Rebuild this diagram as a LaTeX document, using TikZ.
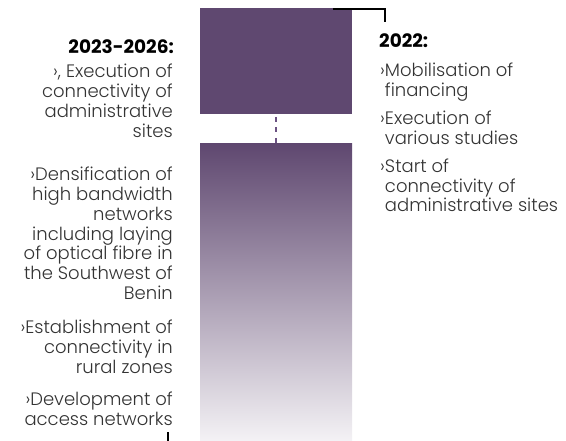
\documentclass[tikz,border=0pt]{standalone}
\usepackage{fontspec}
\IfFontExistsTF{Poppins Light}{\setmainfont{Poppins Light}[BoldFont=Poppins Bold]}{\setmainfont{Poppins}}
\definecolor{barcol}{HTML}{5F4870}
\definecolor{fadecol}{HTML}{F4F2F5}
\definecolor{dashcol}{HTML}{6B5282}
\definecolor{txtcol}{HTML}{333333}
\newcommand\bodyfnt{\fontsize{18}{19.7}\selectfont}
\newcommand\rbodyfnt{\fontsize{18}{18.3}\selectfont}
\newcommand\headfnt{\fontsize{18.5}{20}\selectfont\bfseries}
\newcommand\lcol[1]{\begin{tabular}[t]{@{}r@{}}#1\end{tabular}}
\newcommand\rcol[1]{\begin{tabular}[t]{@{}l@{}}#1\end{tabular}}
\newcommand\bul{›}
\newcommand\ind{\phantom{›}}
\tikzset{
  bar/.style={inner sep=0, outer sep=0, anchor=north west, minimum width=152pt},
  lhead/.style={anchor=base east, inner sep=0, font=\headfnt, text=black},
  rhead/.style={anchor=base west, inner sep=0, font=\headfnt, text=black},
  ltext/.style={anchor=base east, inner sep=0, font=\bodyfnt, text=txtcol},
  rtext/.style={anchor=base west, inner sep=0, font=\rbodyfnt, text=txtcol},
  blackline/.style={draw=black, line width=2pt},
}
\begin{document}
\begin{tikzpicture}[x=1pt,y=-1pt]
\useasboundingbox (0,0) rectangle (566,441);
\node[bar, fill=barcol, minimum height=106pt] (topbar) at (200,8) {};
\node[bar, top color=barcol, bottom color=fadecol, minimum height=297pt] (botbar) at (200,144) {};
\draw[dashcol, line width=2.5pt, dash pattern=on 5pt off 5.5pt] ([yshift=-3pt]topbar.south) -- (botbar.north);
% right column
\node[rhead] (h22) at (379,48) {2022:};
\node[rtext] (r1) at (380,77) {\rcol{\bul Mobilisation of\\ \ind financing}};
\node[rtext] (r2) at (380,125) {\rcol{\bul Execution of\\ \ind various studies}};
\node[rtext] (r3) at (380,173) {\rcol{\bul Start of\\ \ind connectivity of\\ \ind administrative sites}};
% left column
\node[lhead] (h23) at (174,54) {2023-2026:};
\node[ltext] (l1) at (173,78) {\lcol{\bul, Execution of\\ connectivity of\\ administrative\\ sites}};
\node[ltext] (l2) at (173,181) {\lcol{\bul Densification of\\ high bandwidth\\ networks\\ including laying\\ of optical fibre in\\ the Southwest of\\ Benin}};
\node[ltext] (l3) at (173,334) {\lcol{\bul Establishment of\\ connectivity in\\ rural zones}};
\node[ltext] (l4) at (173,406) {\lcol{\bul Development of\\ access networks}};
% connectors
\coordinate (c1) at (333,9);
\coordinate (c2) at (385,22);
\draw[blackline] (c1) -| (c2);
\coordinate (t1) at (168,432);
\coordinate (t2) at (168,441);
\draw[blackline, line width=2.5pt] (t1) -- (t2);
\end{tikzpicture}
\end{document}
